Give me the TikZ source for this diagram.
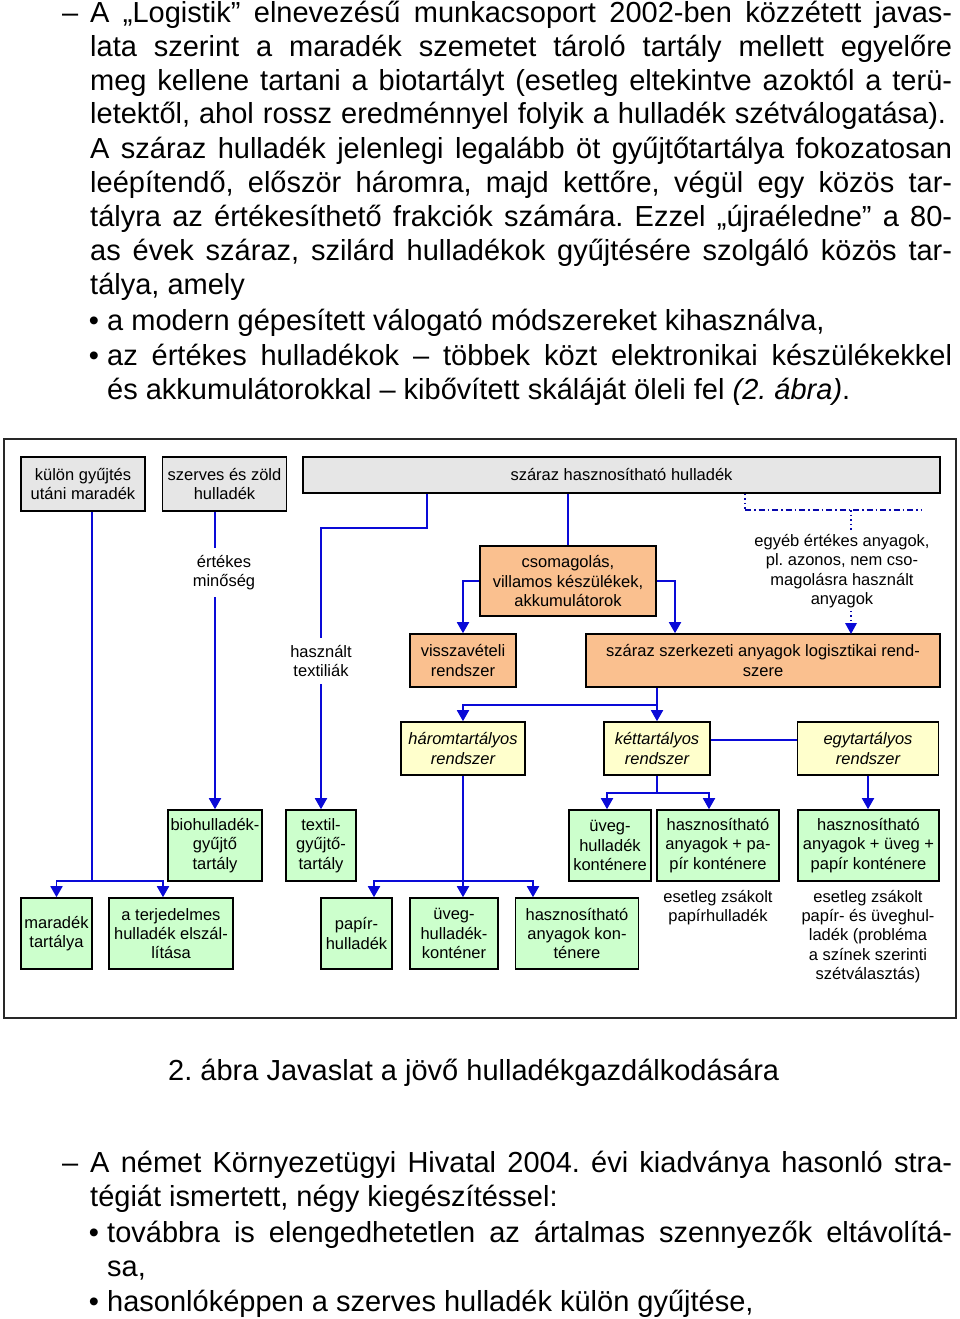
\documentclass[tikz,border=0pt]{standalone}
\usepackage{fontspec}
\setmainfont{Liberation Sans}
\usetikzlibrary{arrows.meta}
\frenchspacing
\definecolor{lineblue}{RGB}{10,10,215}
\definecolor{boxgray}{RGB}{230,230,230}
\definecolor{boxorange}{RGB}{250,192,143}
\definecolor{boxyellow}{RGB}{255,255,204}
\definecolor{boxgreen}{RGB}{204,255,204}
\definecolor{framegray}{RGB}{40,40,40}
\newcommand\dfont{\fontsize{16.5}{19.3}\selectfont}
\newcommand\bfontx{\fontsize{29}{34}\selectfont}
\tikzset{
  box/.style={draw=black, line width=1.6pt, inner sep=1pt, align=center, font=\dfont},
  graybox/.style={box, fill=boxgray},
  orbox/.style={box, fill=boxorange},
  yebox/.style={box, fill=boxyellow, font=\dfont\itshape},
  grbox/.style={box, fill=boxgreen},
  lbl/.style={align=center, font=\dfont, inner xsep=2pt, inner ysep=7pt},
  conn/.style={draw=lineblue, line width=1.8pt},
  arr/.style={conn, -{Triangle[width=12pt,length=11pt]}},
  dashdot/.style={draw=lineblue!80!black, line width=1.5pt, dash pattern=on 6pt off 3pt on 1.5pt off 3pt},
  dotline/.style={draw=lineblue!80!black, line width=1.5pt, dash pattern=on 1.5pt off 3pt},
  btext/.style={font=\bfontx, inner sep=0pt, anchor=base west},
  bbul/.style={font=\bfontx, inner sep=0pt, anchor=base},
}
\begin{document}
\begin{tikzpicture}[x=1pt,y=-1pt]
\useasboundingbox (0,0) rectangle (960,1319);
\fill[white] (0,0) rectangle (960,1319);

% ---- body text, top ----
\node[btext] (d1) at (62,23) {–};
\node[btext] (l1) at (90,23) {\makebox[862pt][s]{A „Logistik” elnevezésű munkacsoport 2002-ben közzétett javas-}};
\node[btext] (l2) at (90,57) {\makebox[862pt][s]{lata szerint a maradék szemetet tároló tartály mellett egyelőre}};
\node[btext] (l3) at (90,91) {\makebox[862pt][s]{meg kellene tartani a biotartályt (esetleg eltekintve azoktól a terü-}};
\node[btext] (l4) at (90,124) {\makebox[856pt][s]{letektől, ahol rossz eredménnyel folyik a hulladék szétválogatása).}};
\node[btext] (l5) at (90,158) {\makebox[862pt][s]{A száraz hulladék jelenlegi legalább öt gyűjtőtartálya fokozatosan}};
\node[btext] (l6) at (90,192) {\makebox[862pt][s]{leépítendő, először háromra, majd kettőre, végül egy közös tar-}};
\node[btext] (l7) at (90,226) {\makebox[862pt][s]{tályra az értékesíthető frakciók számára. Ezzel „újraéledne” a 80-}};
\node[btext] (l8) at (90,260) {\makebox[862pt][s]{as évek száraz, szilárd hulladékok gyűjtésére szolgáló közös tar-}};
\node[btext] (l9) at (90,294) {tálya, amely};
\node[bbul] (p10) at (94,330) {•};
\node[btext] (l10) at (107,330) {a modern gépesített válogató módszereket kihasználva,};
\node[bbul] (p11) at (94,365) {•};
\node[btext] (l11) at (107,365) {\makebox[845pt][s]{az értékes hulladékok – többek közt elektronikai készülékekkel}};
\node[btext] (l12) at (107,399) {és akkumulátorokkal – kibővített skáláját öleli fel \textit{(2. ábra)}.};

% ---- frame ----
\draw[framegray, line width=2pt] (4,439) rectangle (956,1018);

% ---- top row ----
\node[graybox, minimum width=124, minimum height=54] (b1) at (83,484) {külön gyűjtés\\utáni maradék};
\node[graybox, minimum width=124, minimum height=54] (b2) at (224.5,484) {szerves és zöld\\hulladék};
\node[graybox, minimum width=637, minimum height=36] (b3) at (621.5,475) {száraz hasznosítható hulladék};

% ---- orange ----
\node[orbox, minimum width=176, minimum height=70] (pack) at (568,581) {csomagolás,\\villamos készülékek,\\akkumulátorok};
\node[orbox, minimum width=106, minimum height=53] (vissza) at (463,660.5) {visszavételi\\rendszer};
\node[orbox, minimum width=354, minimum height=53] (szerk) at (763,660.5) {száraz szerkezeti anyagok logisztikai rend-\\szere};

% ---- yellow ----
\node[yebox, minimum width=124, minimum height=53] (harom) at (463,748.5) {háromtartályos\\rendszer};
\node[yebox, minimum width=106, minimum height=53] (ketto) at (657,748.5) {kéttartályos\\rendszer};
\node[yebox, minimum width=141, minimum height=53] (egy) at (868,748.5) {egytartályos\\rendszer};

% ---- green row 1 ----
\node[grbox, minimum width=94, minimum height=71] (bio) at (215,845.5) {biohulladék-\\gyűjtő\\tartály};
\node[grbox, minimum width=70, minimum height=71] (textil) at (321,845.5) {textil-\\gyűjtő-\\tartály};
\node[grbox, minimum width=82, minimum height=71] (uvegk) at (610,845.5) {üveg-\\hulladék\\konténere};
\node[grbox, minimum width=122, minimum height=71] (hpap) at (718,845.5) {hasznosítható\\anyagok + pa-\\pír konténere};
\node[grbox, minimum width=141, minimum height=71] (hup) at (868.5,845.5) {hasznosítható\\anyagok + üveg +\\papír konténere};

% ---- green row 2 ----
\node[grbox, minimum width=71, minimum height=71] (mar) at (56.5,933.5) {maradék\\tartálya};
\node[grbox, minimum width=124, minimum height=71] (terj) at (171,933.5) {a terjedelmes\\hulladék elszál-\\lítása};
\node[grbox, minimum width=71, minimum height=71] (papir) at (356.5,933.5) {papír-\\hulladék};
\node[grbox, minimum width=88, minimum height=71] (uveg) at (454,933.5) {üveg-\\hulladék-\\konténer};
\node[grbox, minimum width=123, minimum height=71] (hasz) at (577,933.5) {hasznosítható\\anyagok kon-\\ténere};

% ---- labels ----
\node[lbl] (ertekes) at (224,572.5) {értékes\\minőség};
\node[lbl] (textl) at (321,661) {használt\\textiliák};
\node[lbl, inner ysep=3pt] (egyeb) at (842,571) {egyéb értékes anyagok,\\pl. azonos, nem cso-\\magolásra használt\\anyagok};
\node[lbl, inner ysep=0pt] (zsak1) at (718,907.5) {esetleg zsákolt\\papírhulladék};
\node[lbl, inner ysep=0pt] (zsak2) at (868,936.5) {esetleg zsákolt\\papír- és üveghul-\\ladék (probléma\\a színek szerinti\\szétválasztás)};

% ---- connectors ----
\draw[conn] (b1.south -| 92,0) -- (92,881) coordinate (j1);
\draw[arr] (j1) -| (mar.north);
\draw[arr] (j1) -| (163,0 |- terj.north);

\draw[conn] (b2.south -| 215,0) -- (215,0 |- ertekes.north);
\draw[arr] (215,0 |- ertekes.south) -- (bio.north);

\draw[conn] (b3.south -| 427,0) |- (321,528) -- (321,0 |- textl.north);
\draw[arr] (321,0 |- textl.south) -- (textil.north);

\draw[conn] (b3.south -| pack.north) -- (pack.north);
\draw[arr] (pack.west) -| (vissza.north);
\draw[arr] (pack.east) -| (675,0 |- szerk.north);

\draw[dotline] (b3.south -| 745,0) -- (745,510);
\draw[dashdot] (745,510) -- (922,510);
\draw[dotline] (851,510) -- (851,0 |- egyeb.north);
\draw[dotline] (851,0 |- egyeb.south) -- (851,625);
\fill[lineblue] (845,623) -- (857,623) -- (851,634) -- cycle;

\draw[arr] (szerk.south -| ketto.north) -- (ketto.north);
\draw[arr] (657,705) -| (harom.north);
\draw[conn] (ketto.east |- 0,740) -- (egy.west |- 0,740);

\draw[conn] (harom.south) -- (463,881) coordinate (j2);
\draw[arr] (j2) -- (463,0 |- uveg.north);
\draw[arr] (j2) -| (374,0 |- papir.north);
\draw[arr] (j2) -| (533,0 |- hasz.north);

\draw[conn] (ketto.south) -- (657,793) coordinate (j3);
\draw[arr] (j3) -| (607,0 |- uvegk.north);
\draw[arr] (j3) -| (709,0 |- hpap.north);

\draw[arr] (egy.south) -- (egy.south |- hup.north);

% ---- caption ----
\node[btext] (cap) at (168,1080) {2. ábra Javaslat a jövő hulladékgazdálkodására};

% ---- body text, bottom ----
\node[btext] (d2) at (62,1172) {–};
\node[btext] (m1) at (90,1172) {\makebox[862pt][s]{A német Környezetügyi Hivatal 2004. évi kiadványa hasonló stra-}};
\node[btext] (m2) at (90,1206) {tégiát ismertett, négy kiegészítéssel:};
\node[bbul] (q3) at (94,1242) {•};
\node[btext] (m3) at (107,1242) {\makebox[845pt][s]{továbbra is elengedhetetlen az ártalmas szennyezők eltávolítá-}};
\node[btext] (m4) at (107,1276) {sa,};
\node[bbul] (q5) at (94,1311) {•};
\node[btext] (m5) at (107,1311) {hasonlóképpen a szerves hulladék külön gyűjtése,};
\end{tikzpicture}
\end{document}
